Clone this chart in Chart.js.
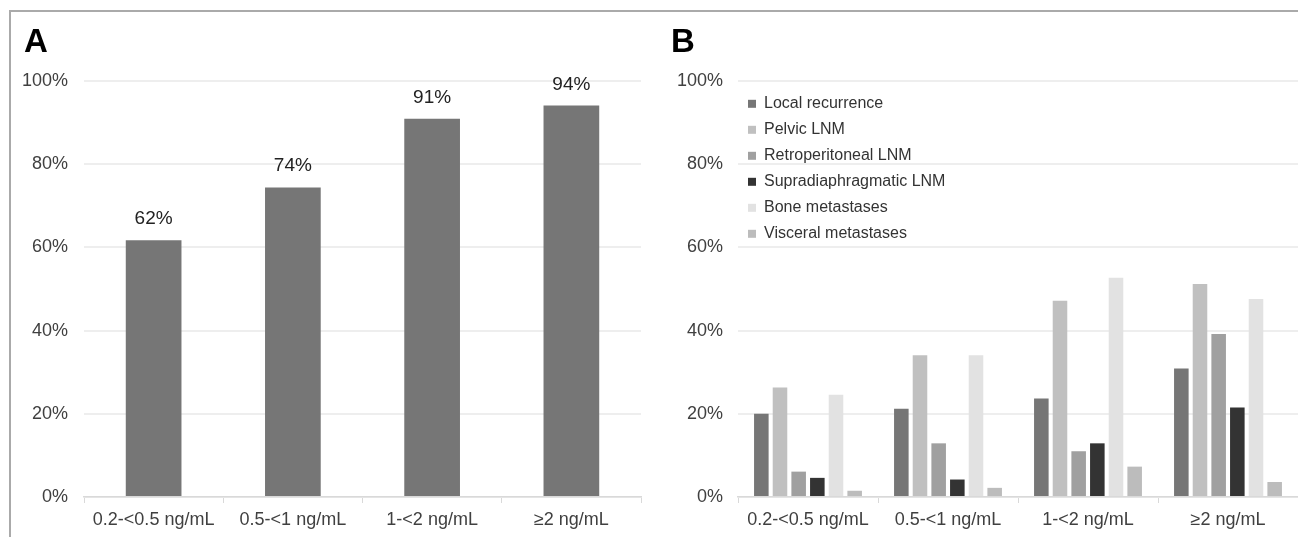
<!DOCTYPE html>
<html>
<head>
<meta charset="utf-8">
<script src="https://cdn.jsdelivr.net/npm/chart.js@4/dist/chart.umd.min.js"></script>
<style>
  body { margin: 0; background: #fff; font-family: "Liberation Sans", Arial, sans-serif; }
  #wrap { position: relative; width: 1298px; height: 537px; overflow: hidden; }
  #frame { position: absolute; left: 9px; top: 10px; right: -10px; bottom: -10px;
           border-top: 2px solid #aaa; border-left: 2px solid #aaa; pointer-events: none; }
  .panel { position: absolute; top: 0; height: 537px; }
  .tag { position: absolute; top: 24px; font-size: 33px; line-height: 33px; font-weight: bold; color: #000; }
</style>
</head>
<body>
<div id="wrap">
  <div class="panel" style="left:0; width:650px;"><canvas id="chartA"></canvas></div>
  <div class="panel" style="left:650px; width:648px;"><canvas id="chartB"></canvas></div>
  <div id="frame"></div>
  <div class="tag" style="left:24px;">A</div>
  <div class="tag" style="left:671px;">B</div>
</div>
<script>
const categories = ["0.2-<0.5 ng/mL", "0.5-<1 ng/mL", "1-<2 ng/mL", "\u22652 ng/mL"];
const yTicks = [0, 20, 40, 60, 80, 100];

// panel A: detection rate
const detectionRate = [61.7, 74.4, 90.9, 94.1];

// panel B: lesion location
const localRecurrence = [20.0, 21.2, 23.7, 30.9];
const pelvicLNM = [26.3, 34.1, 47.2, 51.2];
const retroperitonealLNM = [6.1, 12.9, 11.0, 39.2];
const supradiaphragmaticLNM = [4.6, 4.2, 12.9, 21.5];
const boneMetastases = [24.6, 34.1, 52.7, 47.6];
const visceralMetastases = [1.5, 2.2, 7.3, 3.6];

const FONT = '"Liberation Sans", Arial, sans-serif';
const TEXT = "#404040";

function yScale(width, pad) {
  return {
    min: 0, max: 100,
    afterFit: s => { s.width = width; },
    afterBuildTicks: s => { s.ticks = yTicks.map(v => ({ value: v })); },
    border: { display: false },
    grid: { color: "#eeeeee", lineWidth: 2, drawTicks: false },
    ticks: { padding: pad, color: TEXT, font: { family: FONT, size: 18 }, callback: v => v + "%" }
  };
}

function xScale() {
  return {
    afterFit: s => { s.height = 40; },
    border: { color: "#d9d9d9", width: 1.5 },
    grid: { drawOnChartArea: false, drawTicks: true, tickLength: 6, color: "#d9d9d9" },
    ticks: { padding: 6, color: TEXT, font: { family: FONT, size: 18 }, maxRotation: 0, autoSkip: false }
  };
}

const valueLabels = {
  id: "valueLabels",
  afterDatasetsDraw(chart) {
    const ctx = chart.ctx;
    const meta = chart.getDatasetMeta(0);
    ctx.save();
    ctx.font = "19px " + FONT;
    ctx.fillStyle = "#222";
    ctx.textAlign = "center";
    ctx.textBaseline = "alphabetic";
    meta.data.forEach((bar, i) => {
      ctx.fillText(Math.round(detectionRate[i]) + "%", bar.x, bar.y - 16);
    });
    ctx.restore();
  }
};

new Chart(document.getElementById("chartA"), {
  type: "bar",
  data: {
    labels: categories,
    datasets: [{
      data: detectionRate,
      backgroundColor: "#767676",
      borderWidth: 0,
      categoryPercentage: 0.8,
      barPercentage: 0.5
    }]
  },
  options: {
    responsive: true,
    maintainAspectRatio: false,
    animation: false,
    layout: { padding: { top: 81, right: 9, left: 0, bottom: 0 } },
    scales: { x: xScale(), y: yScale(84, 16) },
    plugins: { legend: { display: false }, tooltip: { enabled: false } }
  },
  plugins: [valueLabels]
});

const series = [
  ["Local recurrence", localRecurrence, "#767676"],
  ["Pelvic LNM", pelvicLNM, "#c0c0c0"],
  ["Retroperitoneal LNM", retroperitonealLNM, "#a0a0a0"],
  ["Supradiaphragmatic LNM", supradiaphragmaticLNM, "#333333"],
  ["Bone metastases", boneMetastases, "#e2e2e2"],
  ["Visceral metastases", visceralMetastases, "#bcbcbc"]
];

new Chart(document.getElementById("chartB"), {
  type: "bar",
  data: {
    labels: categories,
    datasets: series.map(([label, data, color]) => ({
      label, data,
      backgroundColor: color,
      borderWidth: 0,
      categoryPercentage: 0.8,
      barPercentage: 0.78
    }))
  },
  options: {
    responsive: true,
    maintainAspectRatio: false,
    animation: false,
    layout: { padding: { top: 81, right: 0, left: 0, bottom: 0 } },
    scales: { x: xScale(), y: yScale(88, 15) },
    plugins: {
      tooltip: { enabled: false },
      legend: {
        position: "chartArea",
        align: "start",
        title: { display: true, text: "", padding: { top: 81, bottom: 0 }, font: { size: 4 } },
        labels: {
          boxWidth: 8, boxHeight: 8, padding: 10,
          color: "#333", font: { family: FONT, size: 16 }
        }
      }
    }
  }
});
</script>
</body>
</html>
